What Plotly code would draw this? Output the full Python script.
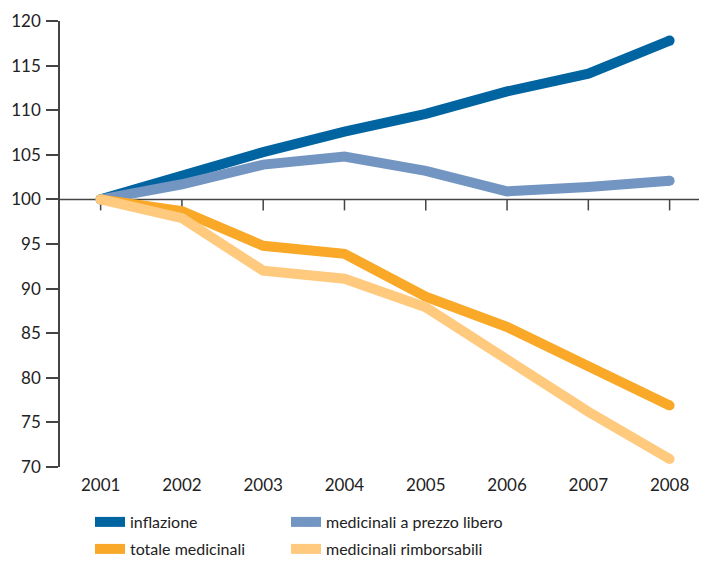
import plotly.graph_objects as go

years = [2001, 2002, 2003, 2004, 2005, 2006, 2007, 2008]
inflazione = [100, 102.7, 105.3, 107.6, 109.6, 112.1, 114.1, 117.8]
prezzo_libero = [100, 101.7, 103.9, 104.8, 103.2, 100.9, 101.4, 102.1]
totale = [100, 98.7, 94.8, 93.9, 89.1, 85.7, 81.3, 76.9]
rimborsabili = [100, 97.9, 92.0, 91.1, 87.9, 81.9, 76.2, 70.9]
y_ticks = [70, 75, 80, 85, 90, 95, 100, 105, 110, 115, 120]

W, H = 707, 561
OFF = 8  # page body margin

# (name, values, colour, legend id, legend x px, legend top px)
series = [
    ("inflazione", inflazione, "#0064A0", "legend", 82, 497),
    ("medicinali a prezzo libero", prezzo_libero, "#7295C2", "legend2", 278, 497),
    ("totale medicinali", totale, "#F9A828", "legend3", 82, 524),
    ("medicinali rimborsabili", rimborsabili, "#FFC97E", "legend4", 278, 524),
]

LW = 10
FONT = "Lato"
fig = go.Figure()
legends = {}
for name, vals, col, lg, lx, ly in series:
    caps = [LW] + [0] * (len(vals) - 2) + [LW]
    fig.add_trace(go.Scatter(
        x=years, y=vals, name=name, mode="lines+markers",
        line=dict(color=col, width=LW),
        marker=dict(size=caps, color=col, opacity=1, line=dict(width=0)),
        legend=lg,
    ))
    legends[lg] = dict(
        orientation="h", xref="container", yref="container",
        xanchor="left", yanchor="top", x=lx / W, y=1 - ly / H,
        font=dict(size=16, family=FONT, color="#222222"),
        bgcolor="rgba(0,0,0,0)",
    )

axis_col = "#444444"
fig.add_shape(type="line", xref="paper", yref="y", x0=0, x1=1, y0=100, y1=100,
              line=dict(color=axis_col, width=1.5), layer="below")
for yr in years:
    fig.add_shape(type="line", xref="x", yref="y", ysizemode="pixel", yanchor=100,
                  x0=yr, x1=yr, y0=0, y1=-11,
                  line=dict(color=axis_col, width=1.5), layer="below")

fig.update_layout(
    width=W, height=H,
    margin=dict(l=60 - OFF, r=OFF, t=21 - OFF, b=H - 467 + OFF, autoexpand=False),
    paper_bgcolor="white", plot_bgcolor="white",
    font=dict(family=FONT, color="#222222", size=17),
    showlegend=True,
    xaxis=dict(
        range=[2000.5, 2008.46], tickvals=years, ticktext=[str(y) for y in years],
        showline=False, showgrid=False, zeroline=False, ticks="",
        tickfont=dict(size=17), ticklabelstandoff=6, automargin=False,
    ),
    yaxis=dict(
        range=[70, 120], tickvals=y_ticks, showgrid=False, zeroline=False,
        showline=True, linecolor=axis_col, linewidth=1.5,
        ticks="outside", ticklen=12, tickwidth=1.5, tickcolor=axis_col,
        tickfont=dict(size=17), ticklabelstandoff=2, automargin=False,
    ),
    **legends,
)

fig.write_html("out.html")
